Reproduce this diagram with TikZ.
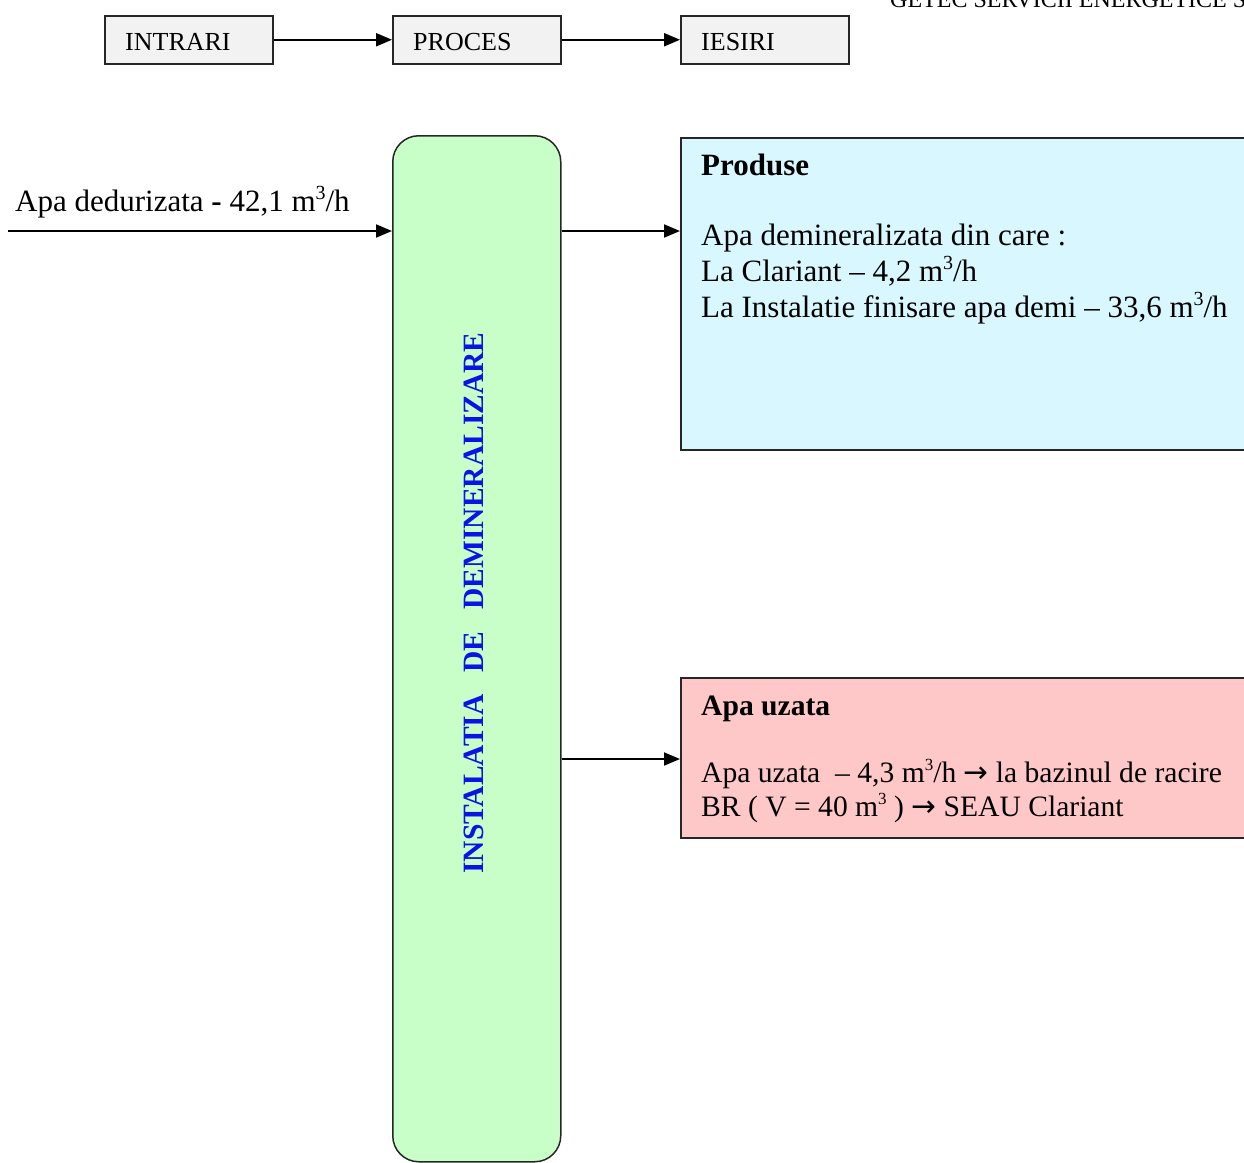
\documentclass[tikz,border=0pt]{standalone}
\usepackage{fontspec}
\setmainfont{Liberation Serif}
\newfontfamily\arrowfont{DejaVu Sans}
\usetikzlibrary{arrows.meta}
\definecolor{boxgray}{HTML}{F2F2F2}
\definecolor{instgreen}{HTML}{C8FFC8}
\definecolor{prodcyan}{HTML}{D9F7FF}
\definecolor{wastepink}{HTML}{FFC8C8}
\definecolor{instblue}{HTML}{0A14E6}
\newcommand{\cubsup}{\raisebox{0.36em}{\fontsize{20}{20}\selectfont 3}}
\newcommand{\smallcub}{\raisebox{0.38em}{\fontsize{17}{17}\selectfont 3}}
\newcommand{\flowarrow}{{\arrowfont →}}
\tikzset{
  topbox/.style={draw=black!85, line width=1.5pt, fill=boxgray, minimum width=168pt, minimum height=48pt, inner sep=0pt, anchor=north west},
  toptext/.style={anchor=base west, inner sep=0pt, font=\fontsize{26}{30}\selectfont},
  outbox/.style={draw=black!85, line width=1.5pt, inner sep=0pt, anchor=north west},
  bodytext/.style={anchor=base west, inner sep=0pt, font=\fontsize{31}{36}\selectfont},
  wastetext/.style={anchor=base west, inner sep=0pt, font=\fontsize{29.6}{34}\selectfont},
  arr/.style={line width=2pt, -{Triangle[length=16pt,width=13pt]}},
}
\begin{document}
\begin{tikzpicture}[x=1pt,y=-1pt]
\useasboundingbox (0,0) rectangle (1244,1162);
% header (cropped at the top of the page, as in the reference)
\node[anchor=base west, inner sep=0pt, font=\fontsize{24}{28}\selectfont] (hdr) at (890,7) {GETEC SERVICII ENERGETICE S};
% top legend boxes
\node[topbox] (intrari) at (104,15) {};
\node[topbox] (proces) at (392,15) {};
\node[topbox] (iesiri) at (680,15) {};
\node[toptext] (tIntrari) at (125,50) {INTRARI};
\node[toptext] (tProces) at (413,50) {PROCES};
\node[toptext] (tIesiri) at (701,50) {IESIRI};
\draw[arr] (intrari.east) -- (proces.west);
\draw[arr] (proces.east) -- (iesiri.west);
% main installation box
\node[draw=black!85, line width=1.5pt, fill=instgreen, rounded corners=26pt, minimum width=168pt, minimum height=1026pt, inner sep=0pt, anchor=north west] (inst) at (392,135) {};
\node[rotate=90, inner sep=0pt, text=instblue, font=\fontsize{29.5}{34}\selectfont\bfseries] (tInst) at (474,603) {INSTALATIA\ \ \ DE\ \ \ DEMINERALIZARE};
% output boxes
\node[outbox, fill=prodcyan, minimum width=580pt, minimum height=312pt] (prod) at (680,137) {};
\node[outbox, fill=wastepink, minimum width=580pt, minimum height=160pt] (waste) at (680,677) {};
% input
\coordinate (inStart) at (8,231);
\node[bodytext] (tIn) at (15,211) {Apa dedurizata \textbf{-} 42,1 m\cubsup/h};
\draw[arr] (inStart) -- (inStart -| inst.west);
% outputs
\coordinate (wasteY) at (600,759);
\draw[arr] (inst.east |- inStart) -- (prod.west |- inStart);
\draw[arr] (inst.east |- wasteY) -- (waste.west |- wasteY);
% product text
\node[bodytext] (pTitle) at (701,175) {\textbf{Produse}};
\node[bodytext] (p1) at (701,245) {Apa demineralizata din care :};
\node[bodytext] (p2) at (701,281) {La Clariant – 4,2 m\cubsup/h};
\node[bodytext] (p3) at (701,317) {La Instalatie finisare apa demi – 33,6 m\cubsup/h};
% waste text
\node[wastetext] (wTitle) at (701,715) {\textbf{Apa uzata}};
\node[wastetext] (w1) at (701,782) {Apa uzata\ \ – 4,3 m\smallcub/h \flowarrow{} la bazinul de racire};
\node[wastetext] (w2) at (701,816) {BR ( V = 40 m\smallcub\ ) \flowarrow{} SEAU Clariant};
\end{tikzpicture}
\end{document}
